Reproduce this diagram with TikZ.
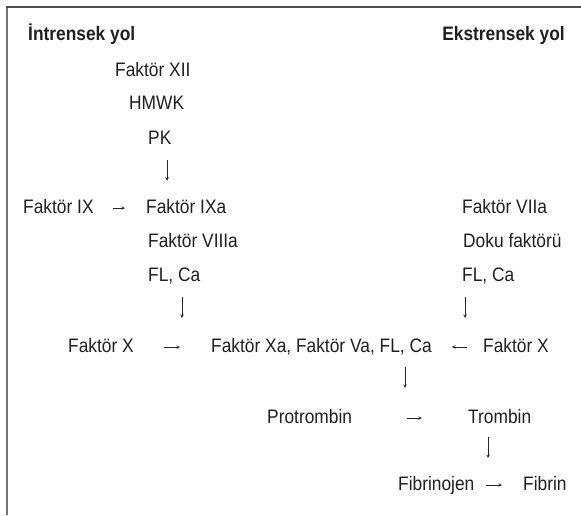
\documentclass[tikz,border=0pt]{standalone}
\usepackage{fontspec}
\setmainfont{Liberation Sans}[FakeStretch=0.89]

\begin{document}
\begin{tikzpicture}[x=1pt, y=-1pt, >=stealth,
        yazi/.style={anchor=base west, inner sep=0pt, text height=14pt, text depth=4pt, text=black!88, font=\fontsize{19.5}{22}\selectfont},
        baslik/.style={yazi, font=\fontsize{19.5}{22}\selectfont\bfseries},
        ok/.style={->, line width=0.6pt, black!85}]
        \useasboundingbox (0,0) rectangle (581,515);

        % Cerceve
        \draw[line width=2pt, black!55] (7,515) -- (7,7);
        \draw[line width=1.4pt, black!70] (6,7) -- (581,7);

        % Basliklar
        \node[baslik] (intr) at (28,40) {İntrensek yol};
        \node[baslik, anchor=base east] (ekst) at (565,40) {Ekstrensek yol};

        % Intrensek yol
        \node[yazi] (f12) at (115,76) {Faktör XII};
        \node[yazi] (hmwk) at (129,109) {HMWK};
        \node[yazi] (pk) at (148,144) {PK};
        \node[yazi] (f9) at (23,213) {Faktör IX};
        \node[yazi] (f9a) at (146,213) {Faktör IXa};
        \node[yazi] (f8a) at (148,247) {Faktör VIIIa};
        \node[yazi] (flca1) at (148,281) {FL, Ca};

        % Ekstrensek yol
        \node[yazi] (f7a) at (462,213) {Faktör VIIa};
        \node[yazi] (doku) at (463,247) {Doku faktörü};
        \node[yazi] (flca2) at (462,281) {FL, Ca};

        % Ortak yol
        \node[yazi] (fx1) at (68,352) {Faktör X};
        \node[yazi] (kompleks) at (211,352) {Faktör Xa, Faktör Va, FL, Ca};
        \node[yazi] (fx2) at (483,352) {Faktör X};
        \node[yazi] (protr) at (267,423) {Protrombin};
        \node[yazi] (trombin) at (468,423) {Trombin};
        \node[yazi] (fibrinojen) at (398,490) {Fibrinojen};
        \node[yazi] (fibrin) at (523,490) {Fibrin};

        % Yatay oklar
        \draw[ok, shorten <=18.8pt, shorten >=21pt] (f9.east) -- (f9a.west);
        \draw[ok, shorten <=29.6pt, shorten >=31pt] (fx1.east) -- (kompleks.west);
        \draw[ok, shorten <=16pt, shorten >=20pt] (fx2.west) -- (kompleks.east);
        \draw[ok, shorten <=55pt, shorten >=46pt] (protr.east) -- (trombin.west);
        \draw[ok, shorten <=11pt, shorten >=21pt] (fibrinojen.east) -- (fibrin.west);

        % Dikey oklar
        \coordinate (k1) at (167,0);
        \coordinate (k2) at (182,318);
        \coordinate (k3) at (465,318);
        \coordinate (k4) at (405,388);
        \coordinate (k5) at (488,458);
        \draw[ok, shorten <=12pt, shorten >=18pt] (k1 |- pk.south) -- (k1 |- f9a.north);
        \draw[ok, shorten <=12pt] (k2 |- flca1.south) -- (k2);
        \draw[ok, shorten <=12pt] (k3 |- flca2.south) -- (k3);
        \draw[ok, shorten <=11pt] (k4 |- kompleks.south) -- (k4);
        \draw[ok, shorten <=10pt] (k5 |- trombin.south) -- (k5);
    \end{tikzpicture}
\end{document}
